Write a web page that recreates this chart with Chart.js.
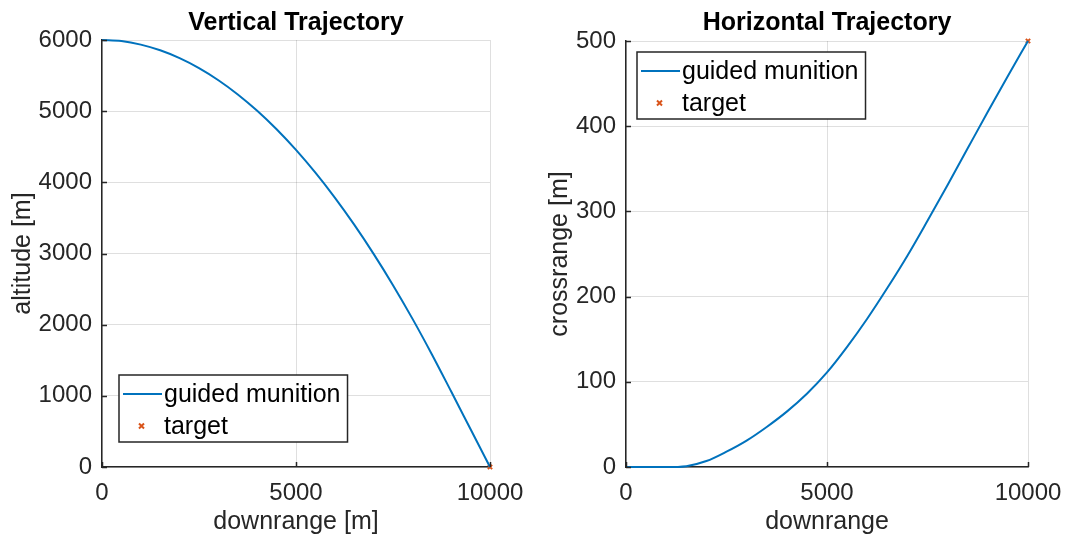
<!DOCTYPE html>
<html>
<head>
<meta charset="utf-8">
<script src="https://cdn.jsdelivr.net/npm/chart.js@4.4.0/dist/chart.umd.min.js"></script>
<style>
  body { margin: 0; background: #fff; }
  .panel { position: absolute; top: 0; width: 535px; height: 540px; }
</style>
</head>
<body>
<div class="panel" style="left:0"><canvas id="vertical" width="535" height="540"></canvas></div>
<div class="panel" style="left:535px"><canvas id="horizontal" width="535" height="540"></canvas></div>
<script>
const downrange = [0, 500, 1000, 1500, 2000, 2500, 3000, 3500, 4000, 4500, 5000,
  5500, 6000, 6500, 7000, 7500, 8000, 8500, 9000, 9500, 10000];
const altitude = [6000, 5985, 5935, 5855, 5745, 5605, 5435, 5235, 5005, 4745, 4455,
  4135, 3785, 3405, 2995, 2555, 2085, 1585, 1060, 530, 0];
const crossrange = [0, 0, 0, 1, 7, 18, 31, 47, 65, 86, 111,
  141, 174, 210, 248, 289, 331, 374, 417, 459, 500];
const targetDownrange = [10000];
const targetAltitude = [0];
const targetCrossrange = [500];
const xTicks = [0, 5000, 10000];
const altitudeTicks = [0, 1000, 2000, 3000, 4000, 5000, 6000];
const crossrangeTicks = [0, 100, 200, 300, 400, 500];
const seriesNames = ['guided munition', 'target'];

const AXIS = '#262626';
const BLUE = '#0072BD';
const ORANGE = '#D95319';

Chart.defaults.font.family = '"Liberation Sans", Arial, Helvetica, sans-serif';
Chart.defaults.color = AXIS;

const toPoints = (xs, ys) => xs.map((x, i) => ({ x: x, y: ys[i] }));

// titles, inward tick marks and the boxed legend, drawn the way matlab does
const matlabLook = {
  id: 'matlabLook',
  afterDraw(chart, args, opts) {
    const { ctx, chartArea: ca, scales } = chart;
    ctx.save();

    ctx.strokeStyle = AXIS;
    ctx.lineWidth = 1.5;
    ctx.beginPath();
    scales.x.ticks.forEach(t => {
      const px = Math.round(scales.x.getPixelForValue(t.value)) + 0.5;
      ctx.moveTo(px, ca.bottom);
      ctx.lineTo(px, ca.bottom - 5);
    });
    scales.y.ticks.forEach(t => {
      const py = Math.round(scales.y.getPixelForValue(t.value)) + 0.5;
      ctx.moveTo(ca.left, py);
      ctx.lineTo(ca.left + 5, py);
    });
    ctx.stroke();

    ctx.fillStyle = '#000';
    ctx.font = 'bold 25px "Liberation Sans", Arial, sans-serif';
    ctx.textAlign = 'center';
    ctx.textBaseline = 'middle';
    ctx.fillText(opts.title, (ca.left + ca.right) / 2, 23);

    ctx.font = '25px "Liberation Sans", Arial, sans-serif';
    const textW = Math.max(...seriesNames.map(n => ctx.measureText(n).width));
    const w = textW + 52;
    const h = 67;
    const bx = ca.left + opts.legendDx;
    const by = opts.legendTop ? ca.top + opts.legendDy : ca.bottom - opts.legendDy - h;
    ctx.fillStyle = '#fff';
    ctx.fillRect(bx, by, w, h);
    ctx.strokeStyle = AXIS;
    ctx.lineWidth = 1.5;
    ctx.strokeRect(bx, by, w, h);

    const row1 = by + 19;
    const row2 = by + 51;
    ctx.strokeStyle = BLUE;
    ctx.lineWidth = 2;
    ctx.beginPath();
    ctx.moveTo(bx + 4, row1);
    ctx.lineTo(bx + 43, row1);
    ctx.stroke();

    ctx.strokeStyle = ORANGE;
    ctx.beginPath();
    ctx.moveTo(bx + 20, row2 - 2.5);
    ctx.lineTo(bx + 25, row2 + 2.5);
    ctx.moveTo(bx + 25, row2 - 2.5);
    ctx.lineTo(bx + 20, row2 + 2.5);
    ctx.stroke();

    ctx.fillStyle = '#000';
    ctx.textAlign = 'left';
    ctx.fillText(seriesNames[0], bx + 45, row1 + 1);
    ctx.fillText(seriesNames[1], bx + 45, row2 + 1);
    ctx.restore();
  }
};

function makeChart(id, cfg) {
  const tickFont = { size: 24 };
  return new Chart(document.getElementById(id), {
    type: 'scatter',
    data: {
      datasets: [
        {
          label: seriesNames[0],
          data: toPoints(downrange, cfg.values),
          showLine: true,
          borderColor: BLUE,
          borderWidth: 2,
          pointRadius: 0,
          cubicInterpolationMode: 'monotone',
          clip: false
        },
        {
          label: seriesNames[1],
          data: toPoints(targetDownrange, cfg.target),
          pointStyle: 'crossRot',
          pointRadius: 3,
          borderColor: ORANGE,
          backgroundColor: ORANGE,
          borderWidth: 2,
          clip: false
        }
      ]
    },
    options: {
      responsive: false,
      animation: false,
      devicePixelRatio: 1,
      layout: { padding: { top: cfg.top, right: cfg.right, bottom: 0, left: 0 } },
      plugins: {
        legend: { display: false },
        tooltip: { enabled: false },
        matlabLook: cfg.look
      },
      scales: {
        x: {
          type: 'linear',
          min: 0,
          max: 10000,
          afterBuildTicks: s => { s.ticks = xTicks.map(v => ({ value: v })); },
          afterFit: s => { s.height = 73; s.paddingLeft = 0; s.paddingRight = 0; },
          ticks: { font: tickFont, padding: 12, maxRotation: 0, color: AXIS, callback: v => String(v) },
          grid: { color: 'rgba(38,38,38,0.15)', lineWidth: 1, drawTicks: false },
          border: { display: true, color: AXIS, width: 1.5 },
          title: { display: true, text: cfg.xTitle, font: { size: 25 }, color: AXIS, padding: { top: 0, bottom: 3 } }
        },
        y: {
          type: 'linear',
          min: 0,
          max: cfg.yTicks[cfg.yTicks.length - 1],
          afterBuildTicks: s => { s.ticks = cfg.yTicks.map(v => ({ value: v })); },
          afterFit: s => { s.width = cfg.yWidth; },
          ticks: { font: tickFont, padding: 10, color: AXIS, callback: v => String(v) },
          grid: { color: 'rgba(38,38,38,0.15)', lineWidth: 1, drawTicks: false },
          border: { display: true, color: AXIS, width: 1.5 },
          title: { display: true, text: cfg.yTitle, font: { size: 25 }, color: AXIS, padding: { top: cfg.yTitlePad, bottom: 0 } }
        }
      }
    },
    plugins: [matlabLook]
  });
}

makeChart('vertical', {
  values: altitude,
  target: targetAltitude,
  yTicks: altitudeTicks,
  xTitle: 'downrange [m]',
  yTitle: 'altitude [m]',
  top: 40,
  right: 45,
  yWidth: 102,
  yTitlePad: 8,
  look: { title: 'Vertical Trajectory', legendDx: 17, legendDy: 25, legendTop: false }
});

makeChart('horizontal', {
  values: crossrange,
  target: targetCrossrange,
  yTicks: crossrangeTicks,
  xTitle: 'downrange',
  yTitle: 'crossrange [m]',
  top: 41,
  right: 42,
  yWidth: 91,
  yTitlePad: 10,
  look: { title: 'Horizontal Trajectory', legendDx: 11, legendDy: 11, legendTop: true }
});
</script>
</body>
</html>
